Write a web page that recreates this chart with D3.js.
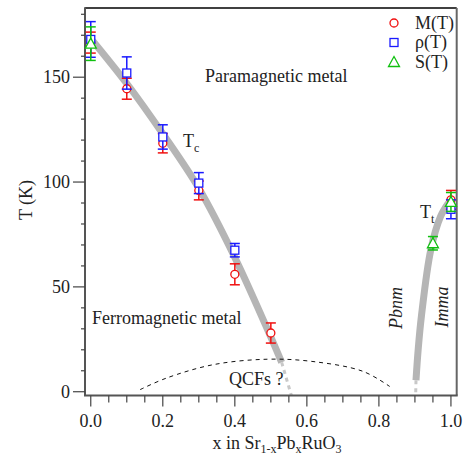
<!DOCTYPE html>
<html>
<head>
<meta charset="utf-8">
<script src="https://cdn.jsdelivr.net/npm/d3@7"></script>
<style>
  body { margin: 0; background: #fff; }
  svg { display: block; }
  text { font-family: "Liberation Serif", "DejaVu Serif", serif; fill: #222; }
</style>
</head>
<body>
<svg id="chart" width="467" height="455" font-family="Liberation Serif, DejaVu Serif, serif"></svg>
<script>
// Measured transition temperatures of Sr(1-x)Pb(x)RuO3
const mX = [0, 0.1, 0.2, 0.3, 0.4, 0.5, 1.0];
const mT = [166.5, 144.5, 118.5, 96, 56, 28, 91.5];
const mErr = [5, 5, 4.6, 4.5, 5, 4.8, 4.5];

const rhoX = [0, 0.1, 0.2, 0.3, 0.4, 1.0];
const rhoT = [168, 152, 121.5, 99.5, 67.5, 87];
const rhoErr = [8.5, 7.7, 5.8, 5, 3.2, 4.5];

const sX = [0, 0.95, 1.0];
const sT = [166, 70.8, 90.5];
const sErr = [8, 3.2, 4.5];

// Phase boundaries (guides to the eye)
const tcLine = [[0, 168.5], [0.1, 147], [0.2, 123], [0.3, 97], [0.4, 64], [0.5, 26], [0.53, 14]];
const tcExt = [[0.53, 14], [0.557, -1.8]];
const ttLine = [[0.903, 5.5], [0.909, 20], [0.918, 36], [0.944, 67.6], [0.971, 83.5], [0.993, 90]];
const ttExt = [[0.903, 5.5], [0.902, -1.8]];
const qcfDome = [[0.137, 1], [0.21, 6.5], [0.34, 12.9], [0.49, 15.5], [0.617, 14.4], [0.756, 9.7], [0.83, 2.5]];

const xTicks = [0, 0.2, 0.4, 0.6, 0.8, 1.0];
const xMinor = d3.range(0, 1.0001, 0.05);
const yTicks = [0, 50, 100, 150];
const yMinor = d3.range(0, 181, 10);

const svg = d3.select("#chart");
const L = 85, R = 456.7, T = 8, B = 395.5;
const x = d3.scaleLinear().domain([-0.016, 1.016]).range([L, R]);
const y = d3.scaleLinear().domain([-1.8, 183]).range([B, T]);

const line = d3.line().x(d => x(d[0])).y(d => y(d[1])).curve(d3.curveCatmullRom.alpha(0.5));
const straight = d3.line().x(d => x(d[0])).y(d => y(d[1]));

// Phase-boundary guides
svg.append("path").attr("d", line(tcLine)).attr("fill", "none")
  .attr("stroke", "#b5b5b5").attr("stroke-width", 7);
svg.append("path").attr("d", line(ttLine)).attr("fill", "none")
  .attr("stroke", "#b5b5b5").attr("stroke-width", 7);
svg.append("path").attr("d", straight(tcExt)).attr("fill", "none")
  .attr("stroke", "#c8c8c8").attr("stroke-width", 3).attr("stroke-dasharray", "4,4");
svg.append("path").attr("d", straight(ttExt)).attr("fill", "none")
  .attr("stroke", "#c8c8c8").attr("stroke-width", 3).attr("stroke-dasharray", "4,4");
svg.append("path").attr("d", line(qcfDome)).attr("fill", "none")
  .attr("stroke", "#111").attr("stroke-width", 1).attr("stroke-dasharray", "4,4");

// Frame
svg.append("line").attr("x1", L).attr("x2", R).attr("y1", T).attr("y2", T)
  .attr("stroke", "#000").attr("stroke-width", 1.5);
svg.append("line").attr("x1", R).attr("x2", R).attr("y1", T).attr("y2", B)
  .attr("stroke", "#666").attr("stroke-width", 2);
svg.append("line").attr("x1", L).attr("x2", L).attr("y1", T - 0.75).attr("y2", B)
  .attr("stroke", "#555").attr("stroke-width", 2);
svg.append("line").attr("x1", L - 1).attr("x2", R + 1).attr("y1", B).attr("y2", B)
  .attr("stroke", "#555").attr("stroke-width", 2);

// X axis ticks
const xg = svg.append("g");
xg.selectAll("line").data(xMinor).join("line")
  .attr("x1", d => x(d)).attr("x2", d => x(d))
  .attr("y1", B).attr("y2", d => (Math.abs(d * 5 - Math.round(d * 5)) < 1e-6) ? B + 11 : B + 7)
  .attr("stroke", "#444").attr("stroke-width", 1.2);
xg.selectAll("text").data(xTicks).join("text")
  .attr("x", d => x(d)).attr("y", 427).attr("text-anchor", "middle")
  .attr("font-size", 18).text(d => d3.format(".1f")(d));

// Y axis ticks
const yg = svg.append("g");
yg.selectAll("line").data(yMinor).join("line")
  .attr("x1", d => yTicks.includes(d) ? L - 12 : L - 4).attr("x2", L)
  .attr("y1", d => y(d)).attr("y2", d => y(d))
  .attr("stroke", "#444").attr("stroke-width", 1.2);
yg.selectAll("text").data(yTicks).join("text")
  .attr("x", 70).attr("y", d => y(d) + 6).attr("text-anchor", "end")
  .attr("font-size", 18).text(d => d);

// Axis titles
svg.append("text").attr("transform", "translate(32,200) rotate(-90)")
  .attr("text-anchor", "middle").attr("font-size", 18).text("T (K)");
const xt = svg.append("text").attr("x", 277).attr("y", 449).attr("text-anchor", "middle").attr("font-size", 18);
xt.append("tspan").text("x in Sr");
xt.append("tspan").attr("font-size", 12).attr("dy", 4).text("1-x");
xt.append("tspan").attr("dy", -4).text("Pb");
xt.append("tspan").attr("font-size", 12).attr("dy", 4).text("x");
xt.append("tspan").attr("dy", -4).text("RuO");
xt.append("tspan").attr("font-size", 12).attr("dy", 4).text("3");

// Error bars and markers
function series(xs, ts, errs, color, drawMarker) {
  const g = svg.append("g");
  const d = xs.map((v, i) => ({ x: v, t: ts[i], e: errs[i] }));
  const cap = 5;
  g.selectAll("line.v").data(d).join("line").attr("class", "v")
    .attr("x1", p => x(p.x)).attr("x2", p => x(p.x))
    .attr("y1", p => y(p.t + p.e)).attr("y2", p => y(p.t - p.e))
    .attr("stroke", color).attr("stroke-width", 1.5);
  g.selectAll("line.top").data(d).join("line").attr("class", "top")
    .attr("x1", p => x(p.x) - cap).attr("x2", p => x(p.x) + cap)
    .attr("y1", p => y(p.t + p.e)).attr("y2", p => y(p.t + p.e))
    .attr("stroke", color).attr("stroke-width", 1.5);
  g.selectAll("line.bot").data(d).join("line").attr("class", "bot")
    .attr("x1", p => x(p.x) - cap).attr("x2", p => x(p.x) + cap)
    .attr("y1", p => y(p.t - p.e)).attr("y2", p => y(p.t - p.e))
    .attr("stroke", color).attr("stroke-width", 1.5);
  d.forEach(p => drawMarker(g, x(p.x), y(p.t)));
}
const circle = color => (g, cx, cy) => g.append("circle").attr("cx", cx).attr("cy", cy).attr("r", 4)
  .attr("fill", "#fff").attr("stroke", color).attr("stroke-width", 1.3);
const square = color => (g, cx, cy) => g.append("rect").attr("x", cx - 4).attr("y", cy - 4)
  .attr("width", 8).attr("height", 8).attr("fill", "#fff").attr("stroke", color).attr("stroke-width", 1.3);
const triangle = color => (g, cx, cy) => g.append("path")
  .attr("d", `M${cx},${cy - 5.5}L${cx + 5.5},${cy + 4.5}L${cx - 5.5},${cy + 4.5}Z`)
  .attr("fill", "#fff").attr("stroke", color).attr("stroke-width", 1.3);

const RED = "#f01010", BLUE = "#1a1aff", GREEN = "#10c010";
series(mX, mT, mErr, RED, circle(RED));
series(rhoX, rhoT, rhoErr, BLUE, square(BLUE));
series(sX, sT, sErr, GREEN, triangle(GREEN));

// Region labels
svg.append("text").attr("x", 205).attr("y", 82).attr("font-size", 18).text("Paramagnetic metal");
svg.append("text").attr("x", 92).attr("y", 324).attr("font-size", 18).text("Ferromagnetic metal");
svg.append("text").attr("x", 229).attr("y", 385).attr("font-size", 18).text("QCFs ?");
const tc = svg.append("text").attr("x", 183).attr("y", 147).attr("font-size", 18);
tc.append("tspan").text("T");
tc.append("tspan").attr("font-size", 12).attr("dy", 5).text("c");
const tt = svg.append("text").attr("x", 420).attr("y", 218).attr("font-size", 18);
tt.append("tspan").text("T");
tt.append("tspan").attr("font-size", 12).attr("dy", 5).text("t");
svg.append("text").attr("transform", "translate(402,308) rotate(-90)").attr("text-anchor", "middle")
  .attr("font-size", 18).attr("font-style", "italic").text("Pbnm");
svg.append("text").attr("transform", "translate(448,307) rotate(-90)").attr("text-anchor", "middle")
  .attr("font-size", 18).attr("font-style", "italic").text("Imma");

// Legend
const legend = [
  { label: "M(T)", marker: circle(RED) },
  { label: "ρ(T)", marker: square(BLUE) },
  { label: "S(T)", marker: triangle(GREEN) }
];
const lg = svg.append("g");
legend.forEach((e, i) => {
  const cy = 23 + i * 19.5;
  e.marker(lg, 394, cy);
  lg.append("text").attr("x", 415).attr("y", cy + 5.5).attr("font-size", 18).text(e.label);
});
</script>
</body>
</html>
